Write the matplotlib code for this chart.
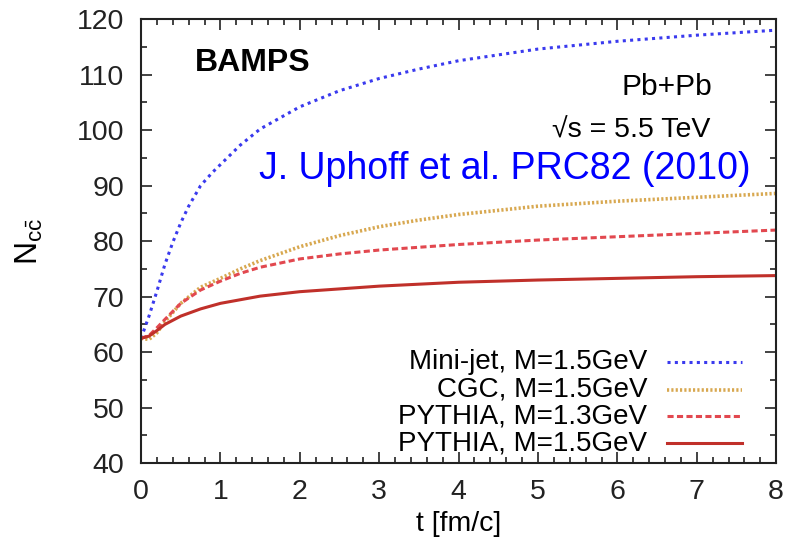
import matplotlib.pyplot as plt
from matplotlib.ticker import MultipleLocator

plt.rcParams['font.family'] = ['Liberation Sans', 'DejaVu Sans']

# curves (time in fm/c, number of c-cbar pairs)
t_minijet = [0, 0.1, 0.2, 0.3, 0.4, 0.5, 0.6, 0.75, 0.9, 1.0, 1.25, 1.5, 2.0, 2.5, 3.0, 3.5, 4.0, 5.0, 6.0, 7.0, 8.0]
n_minijet = [62.5, 66.5, 71.0, 75.8, 79.8, 83.3, 86.3, 90.0, 92.4, 93.8, 97.3, 100.2, 104.2, 107.1, 109.3, 111.0, 112.5, 114.6, 116.0, 117.1, 118.0]

t_cgc = [0, 0.1, 0.2, 0.3, 0.5, 0.75, 1.0, 1.25, 1.5, 2.0, 2.5, 3.0, 3.5, 4.0, 5.0, 6.0, 7.0, 8.0]
n_cgc = [62.5, 62.3, 63.5, 65.5, 68.8, 71.7, 73.3, 75.0, 76.5, 79.0, 81.0, 82.6, 83.8, 84.8, 86.3, 87.2, 87.9, 88.6]

t_py13 = [0, 0.1, 0.2, 0.3, 0.5, 0.75, 1.0, 1.25, 1.5, 2.0, 2.5, 3.0, 3.5, 4.0, 5.0, 6.0, 7.0, 8.0]
n_py13 = [62.5, 63.0, 64.4, 65.9, 68.8, 71.2, 72.8, 74.2, 75.3, 76.8, 77.7, 78.4, 78.9, 79.4, 80.2, 80.8, 81.4, 82.0]

t_py15 = [0, 0.1, 0.2, 0.3, 0.5, 0.75, 1.0, 1.5, 2.0, 2.5, 3.0, 4.0, 5.0, 6.0, 7.0, 8.0]
n_py15 = [62.5, 62.9, 63.9, 65.0, 66.5, 67.8, 68.8, 70.1, 70.9, 71.4, 71.9, 72.6, 73.0, 73.3, 73.6, 73.8]

labels = ['Mini-jet, M=1.5GeV', 'CGC, M=1.5GeV', 'PYTHIA, M=1.3GeV', 'PYTHIA, M=1.5GeV']
colors = ['#3a3aee', '#d8a850', '#e2484f', '#c0302a']
styles = [(0, (1, 1.4)), (0, (0.6, 0.6)), (0, (2.0, 1.1)), '-']
widths = [2.2, 2.6, 2.2, 2.2]

fig = plt.figure(figsize=(7.88, 5.45), dpi=100)
ax = fig.add_axes([0.179, 0.150, 0.806, 0.815])

series = [(t_minijet, n_minijet), (t_cgc, n_cgc), (t_py13, n_py13), (t_py15, n_py15)]
for (t, n), c, ls, lw in zip(series, colors, styles, widths):
    ax.plot(t, n, color=c, linestyle=ls, linewidth=lw)

ax.set_xlim(0, 8)
ax.set_ylim(40, 120)
ax.xaxis.set_major_locator(MultipleLocator(1))
ax.xaxis.set_minor_locator(MultipleLocator(0.2))
ax.yaxis.set_major_locator(MultipleLocator(10))
ax.yaxis.set_minor_locator(MultipleLocator(5))
ax.tick_params(which='both', direction='in', top=True, right=True, labelsize=20.5, width=1.2, colors='#222222')
ax.tick_params(axis='y', which='major', length=8, pad=12)
ax.tick_params(axis='x', which='major', length=8, pad=11)
ax.tick_params(which='minor', length=4)
for s in ax.spines.values():
    s.set_linewidth(1.5)
    s.set_color('#222222')

ax.set_xlabel('t [fm/c]', fontsize=20.5, labelpad=5)
ax.set_ylabel(r'N$_{\mathregular{c\bar{c}}}$', fontsize=23, labelpad=23)

ax.text(0.175, 0.90, 'BAMPS', transform=ax.transAxes, fontsize=23, fontweight='bold', ha='center', va='center')
ax.text(0.899, 0.847, 'Pb+Pb', transform=ax.transAxes, fontsize=21.5, ha='right', va='center')
ax.text(0.896, 0.75, '\u221as = 5.5 TeV', transform=ax.transAxes, fontsize=20.5, ha='right', va='center')
ax.text(0.186, 0.662, 'J. Uphoff et al. PRC82 (2010)', transform=ax.transAxes, fontsize=27,
        color='#0000ff', ha='left', va='center')

# legend: text right-aligned, sample line on the right
rows = [0.227, 0.166, 0.106, 0.045]
for y, lab, c, ls, lw in zip(rows, labels, colors, styles, widths):
    ax.text(0.797, y, lab, transform=ax.transAxes, fontsize=20, ha='right', va='center')
    ax.plot([0.828, 0.946], [y, y], transform=ax.transAxes, color=c, linestyle=ls, linewidth=lw)

fig.savefig('out.png', dpi=100)
